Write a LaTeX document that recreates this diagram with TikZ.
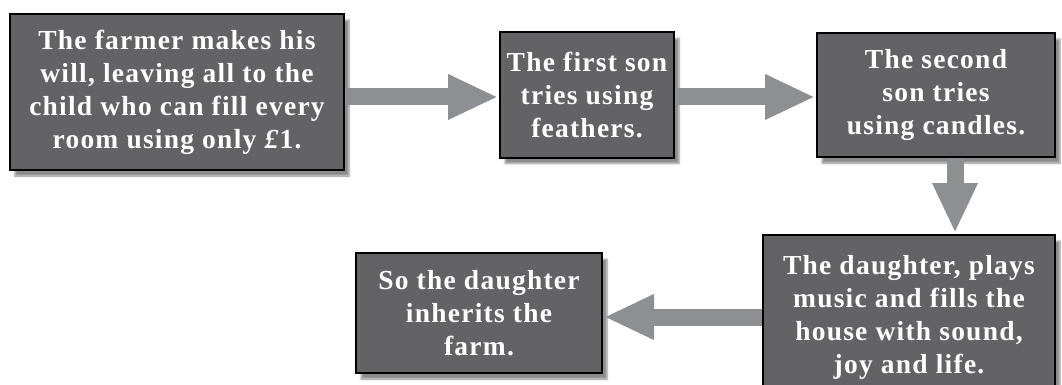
\documentclass[tikz,border=0pt]{standalone}
\usepackage{fontspec}
\setmainfont{Liberation Serif}
\newfontfamily\storyfont{Liberation Serif}[LetterSpace=4.5]
\usetikzlibrary{arrows.meta,shadows.blur}
\definecolor{boxgray}{HTML}{636366}
\definecolor{arrowgray}{HTML}{8E8F93}
\tikzset{
  story/.style={draw=black,line width=2pt,fill=boxgray,text=white,align=center,
    font=\storyfont\bfseries\fontsize{27.5}{33}\selectfont,inner sep=0pt,
    blur shadow={shadow xshift=5pt,shadow yshift=-6pt,shadow blur steps=6,shadow opacity=45}},
  flow/.style={arrowgray,line width=17pt,-{Triangle[length=50pt,width=42pt]},shorten >=1pt}
}
\begin{document}
\begin{tikzpicture}[x=1pt,y=-1pt]
    \useasboundingbox (0,0) rectangle (1062,385);
    \node[story,minimum width=334pt,minimum height=156pt] (will) at (177,92)
      {The farmer makes his\\will, leaving all to the\\child who can fill every\\room using only \textit{£}1.};
    \node[story,minimum width=174pt,minimum height=125pt] (first) at (587,95)
      {The first son\\tries using\\feathers.};
    \node[story,minimum width=238pt,minimum height=124pt] (second) at (936,95)
      {The second\\son tries\\using candles.};
    \node[story,minimum width=292pt,minimum height=164pt] (daughter) at (909,317)
      {The daughter, plays\\music and fills the\\house with sound,\\joy and life.};
    \node[story,minimum width=246pt,minimum height=120pt] (farm) at (479,313)
      {So the daughter\\inherits the\\farm.};
    \draw[flow] (will.east |- 0,97) -- (first.west |- 0,97);
    \draw[flow] (first.east |- 0,97) -- (second.west |- 0,97);
    \draw[flow] ([xshift=19pt]second.south) -- ([xshift=19pt]second.south |- daughter.north);
    \draw[flow] (daughter.west) -- (daughter.west -| farm.east);
  \end{tikzpicture}
\end{document}
